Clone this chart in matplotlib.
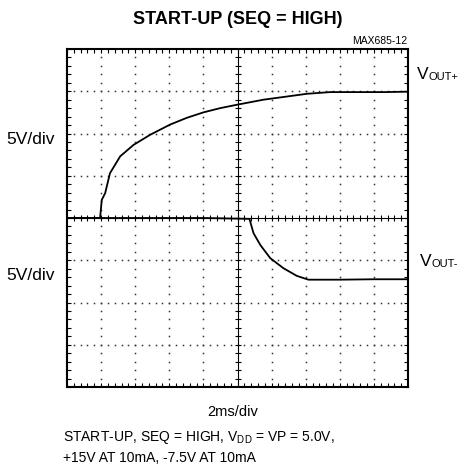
import numpy as np
import matplotlib
matplotlib.use("Agg")
import matplotlib.pyplot as plt

plt.rcParams['font.family'] = ['Liberation Sans', 'DejaVu Sans']
plt.rcParams['mathtext.fontset'] = 'custom'
plt.rcParams['mathtext.rm'] = 'Liberation Sans'
plt.rcParams['mathtext.it'] = 'Liberation Sans'
plt.rcParams['mathtext.bf'] = 'Liberation Sans:bold'

# ---- data (in screen divisions: x 0..10, y 0..8) ----
vpos_x = [0.0, 0.5, 0.97, 1.02, 1.12, 1.26, 1.56, 1.95, 2.44, 3.02, 3.51, 4.0,
          4.49, 4.98, 5.76, 7.04, 7.72, 8.5, 9.3, 10.0]
vpos_y = [4.0, 4.0, 4.0, 4.43, 4.59, 5.06, 5.46, 5.73, 5.97, 6.21, 6.37, 6.50,
          6.60, 6.68, 6.80, 6.94, 6.98, 6.98, 6.98, 6.99]
vneg_x = [0.0, 2.0, 4.0, 5.35, 5.47, 5.67, 5.96, 6.35, 6.74, 7.08, 8.0, 9.0, 10.0]
vneg_y = [4.0, 4.0, 4.0, 3.98, 3.64, 3.36, 3.05, 2.81, 2.63, 2.54, 2.54, 2.55, 2.55]

W, H = 461, 471
fig = plt.figure(figsize=(W / 100, H / 100), dpi=100)
ax = fig.add_axes([67 / W, (H - 387) / H, 341 / W, 338 / H])
ax.set_xlim(0, 10)
ax.set_ylim(0, 8)

# frame ticks
ax.set_xticks(np.arange(0, 10.01, 1))
ax.set_yticks(np.arange(0, 8.01, 1))
ax.set_xticks(np.arange(0, 10.01, 0.2), minor=True)
ax.set_yticks(np.arange(0, 8.01, 0.2), minor=True)
ax.tick_params(which='both', direction='in', top=True, right=True,
               labelbottom=False, labelleft=False, length=3, width=0.8, color='black')
for s in ax.spines.values():
    s.set_linewidth(1.5)

gc = '#333333'
# dotted grid
for i in range(1, 10):
    if i == 5:
        continue
    ys = np.arange(0.2, 8.0, 0.2)
    ax.plot([i] * len(ys), ys, ls='none', marker='s', ms=1.1, mew=0, color=gc)
for j in range(1, 8):
    if j == 4:
        continue
    xs = np.arange(0.2, 10.0, 0.2)
    ax.plot(xs, [j] * len(xs), ls='none', marker='s', ms=1.1, mew=0, color=gc)

# center axes with ticks
ax.axvline(5, lw=0.8, color='black')
ax.axhline(4, lw=0.8, color='black')
ys = np.arange(0.2, 8.0, 0.2)
ax.plot([5] * len(ys), ys, ls='none', marker='_', ms=5, mew=0.8, color='black')
xs = np.arange(0.2, 10.0, 0.2)
ax.plot(xs, [4] * len(xs), ls='none', marker='|', ms=5, mew=0.8, color='black')

# traces
ax.plot(vneg_x, vneg_y, color='black', lw=1.3)
ax.plot(vpos_x, vpos_y, color='black', lw=1.3)

def px(x, y):
    return x / W, 1 - y / H

fig.text(*px(237.5, 19), 'START-UP (SEQ = HIGH)', ha='center', va='center',
         fontsize=13, fontweight='bold')
fig.text(*px(407, 41), 'MAX685-12', ha='right', va='center', fontsize=7.5)
fig.text(*px(31, 140), '5V/div', ha='center', va='center', fontsize=12.5)
fig.text(*px(31, 275), '5V/div', ha='center', va='center', fontsize=12.5)
# V_OUT+ / V_OUT- labels
fig.text(*px(417, 79), 'V', ha='left', va='baseline', fontsize=12.5)
fig.text(*px(428.5, 80), 'OUT+', ha='left', va='baseline', fontsize=8)
fig.text(*px(420, 266), 'V', ha='left', va='baseline', fontsize=12.5)
fig.text(*px(431.5, 267), 'OUT-', ha='left', va='baseline', fontsize=8)
fig.text(*px(232.5, 412), '2ms/div', ha='center', va='center', fontsize=10.5)
fig.text(*px(63, 438), r'START-UP, SEQ = HIGH, V$_{\mathrm{DD}}$ = VP = 5.0V,',
         ha='left', va='center', fontsize=10)
fig.text(*px(63, 458), '+15V AT 10mA, -7.5V AT 10mA', ha='left', va='center', fontsize=10)

fig.savefig('out.png', dpi=100)
